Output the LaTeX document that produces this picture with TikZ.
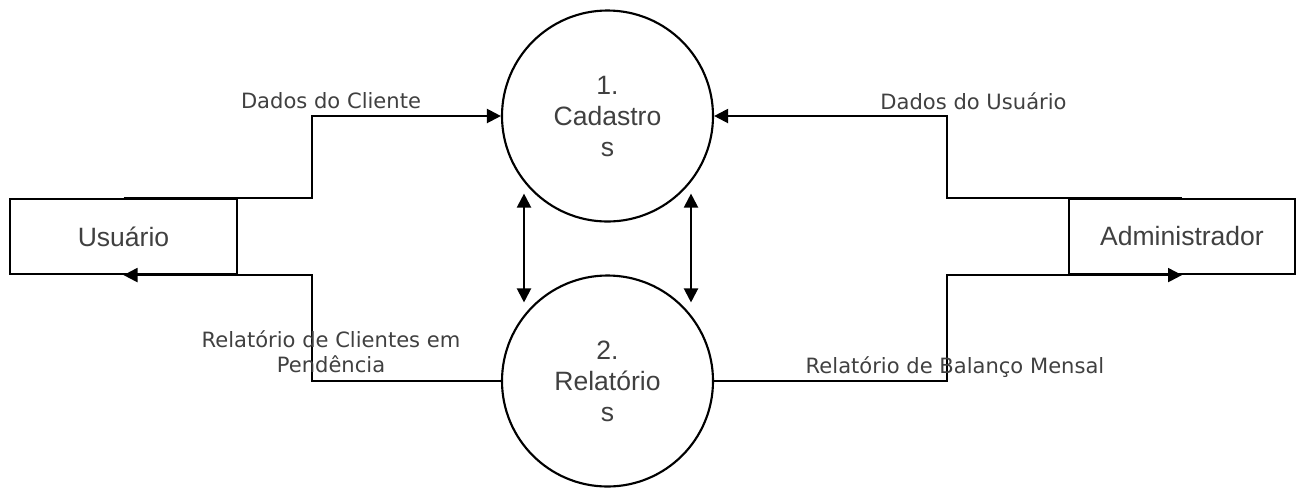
\documentclass[tikz,border=0pt]{standalone}
\usepackage{fontspec}
\setmainfont{Liberation Sans}
\newfontfamily\labelfont{DejaVu Sans}
\usetikzlibrary{arrows.meta}
\definecolor{txtgray}{RGB}{64,64,64}

\begin{document}
\begin{tikzpicture}[x=0.75pt, y=-0.75pt,
    line width=1.6pt,
    every node/.style={text=txtgray},
    proc/.style = {draw=black, circle, minimum size=158.25pt, inner sep=0pt,
      align=center, font=\fontsize{19.9}{23.25}\selectfont},
    ent/.style = {draw=black, rectangle, minimum width=170pt, minimum height=56.25pt,
      inner sep=0pt, font=\fontsize{19.9}{23.25}\selectfont},
    lbl/.style = {inner sep=0pt, align=center,
      font=\labelfont\fontsize{15.8}{18.75}\selectfont},
    flow/.style = {-{Triangle[length=10.5pt,width=10.5pt]}},
    dflow/.style = {{Triangle[length=10.5pt,width=10.5pt]}-{Triangle[length=10.5pt,width=10.5pt]}}]
    \useasboundingbox (0,0) rectangle (1299,487);

    % processes
    \node[proc] (cad) at (607.5,116) {1.\\Cadastro\\s};
    \node[proc] (rel) at (607.5,381) {2.\\Relatório\\s};

    % external entities
    \node[ent] (usr) at (123.5,236.5) {Usuário};
    \node[ent] (adm) at (1182,236.5) {Administrador};

    % bends of the flows
    \coordinate (lbus) at (312,0);
    \coordinate (rbus) at (947,0);

    % flows
    \draw[flow] (usr.north) -| (lbus |- cad.west) -- (cad.west);
    \draw[flow] (rel.west) -- (lbus |- rel.west) |- (usr.south);
    \draw[flow] (adm.north) -| (rbus |- cad.east) -- (cad.east);
    \draw[flow] (rel.east) -- (rbus |- rel.east) |- (adm.south);
    \draw[dflow] ([shift={(-83.5,-29)}]cad.south) -- ([shift={(-83.5,28)}]rel.north);
    \draw[dflow] ([shift={(83.5,-29)}]cad.south) -- ([shift={(83.5,28)}]rel.north);

    % labels
    \node[lbl, anchor=base] (lcli) at (331,108) {Dados do Cliente};
    \node[lbl, anchor=base] (lusu) at (973.5,109) {Dados do Usuário};
    \node[lbl] (lpen) at (331,352) {Relatório de Clientes em\\Pendência};
    \node[lbl, anchor=base] (lbal) at (955,373) {Relatório de Balanço Mensal};
\end{tikzpicture}
\end{document}
